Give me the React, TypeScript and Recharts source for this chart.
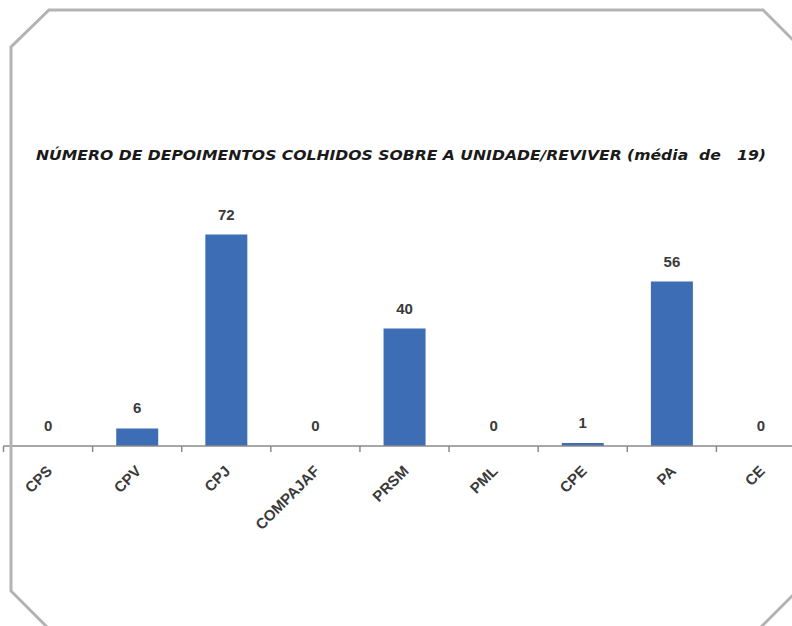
import { BarChart, Bar, XAxis, YAxis, LabelList } from "recharts";

/* ================= DATA ================= */

const categories = ["CPS", "CPV", "CPJ", "COMPAJAF", "PRSM", "PML", "CPE", "PA", "CE"];
const depoimentos = [0, 6, 72, 0, 40, 0, 1, 56, 0];
const yDomain = [0, 80];

const title = "NÚMERO DE DEPOIMENTOS COLHIDOS SOBRE A UNIDADE/REVIVER (média  de   19)";

const data = categories.map((name, i) => ({ name, value: depoimentos[i] }));

/* ================= LAYOUT ================= */

const W = 792;
const H = 626;
const CHART_W = 810;
const MARGIN = { top: 211, right: 4.5, bottom: 120, left: 3.5 };
const AXIS_H = 60;
const AXIS_Y = H - MARGIN.bottom - AXIS_H;
const BAND = (CHART_W - MARGIN.left - MARGIN.right) / categories.length;
const TEXT = "#3a3a3a";
const FONT = "Liberation Sans, Arial, sans-serif";

function CategoryTick(props: any) {
  const { x, payload } = props;
  return (
    <g>
      <line
        x1={x - BAND / 2}
        x2={x - BAND / 2}
        y1={AXIS_Y}
        y2={AXIS_Y + 6}
        stroke="#8a8a8a"
        strokeWidth={1.5}
      />
      <g transform={`translate(${x + 5},${AXIS_Y + 26})`}>
        <text
          x={0}
          y={0}
          transform="rotate(-45)"
          textAnchor="end"
          fill={TEXT}
          fontSize={15}
          fontWeight="bold"
          fontFamily={FONT}
        >
          {payload.value}
        </text>
      </g>
    </g>
  );
}

/* ================= COMPONENT ================= */

export default function App() {
  return (
    <div
      style={{
        position: "absolute",
        left: 0,
        top: 0,
        width: W,
        height: H,
        overflow: "hidden",
        background: "#ffffff",
      }}
    >
      <BarChart
        width={CHART_W}
        height={H}
        data={data}
        margin={MARGIN}
        barCategoryGap="26.5%"
      >
        <YAxis hide domain={yDomain} />
        <XAxis
          dataKey="name"
          height={AXIS_H}
          interval={0}
          tickLine={false}
          axisLine={{ stroke: "#8a8a8a", strokeWidth: 1.5 }}
          tick={<CategoryTick />}
        />
        <Bar
          dataKey="value"
          fill="#3d6db5"
          minPointSize={0.01}
          isAnimationActive={false}
        >
          <LabelList
            dataKey="value"
            position="top"
            offset={15}
            fill={TEXT}
            fontSize={15}
            fontWeight="bold"
            fontFamily={FONT}
          />
        </Bar>
      </BarChart>

      {/* frame + title */}
      <svg
        width={W}
        height={H}
        style={{ position: "absolute", left: 0, top: 0, pointerEvents: "none" }}
      >
        <polygon
          points="49,10 763,10 820,67 820,568 760,628 49,629 11,591 11,47"
          fill="none"
          stroke="#b3b3b3"
          strokeWidth={3}
        />
        <text
          x={36}
          y={160}
          textLength={730}
          lengthAdjust="spacingAndGlyphs"
          fontSize={14}
          fontWeight="bold"
          fontStyle="italic"
          fill="#1a1a1a"
          fontFamily="DejaVu Sans Condensed, sans-serif"
          style={{ whiteSpace: "pre" }}
        >
          {title}
        </text>
      </svg>
    </div>
  );
}
